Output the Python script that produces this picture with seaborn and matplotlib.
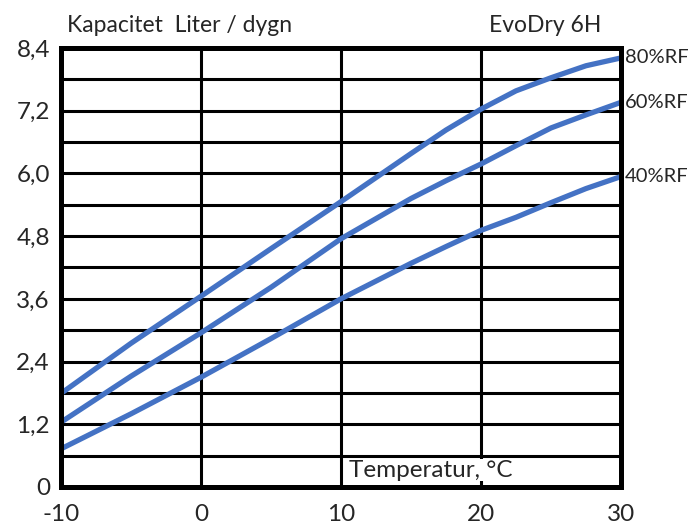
import numpy as np
import pandas as pd
import seaborn as sns
import matplotlib.pyplot as plt

# Data
temperatur = [-10, -5, 0, 5, 10, 15, 17.5, 20, 22.5, 25, 27.5, 30]
rf80 = [1.79, 2.75, 3.65, 4.56, 5.46, 6.38, 6.83, 7.23, 7.58, 7.83, 8.06, 8.21]
rf60 = [1.24, 2.12, 2.95, 3.82, 4.75, 5.52, 5.86, 6.18, 6.53, 6.87, 7.12, 7.36]
rf40 = [0.73, 1.40, 2.10, 2.84, 3.60, 4.28, 4.60, 4.91, 5.16, 5.44, 5.71, 5.94]
serie_namn = ["80%RF", "60%RF", "40%RF"]

x_ticks = [-10, 0, 10, 20, 30]
y_ticks = np.arange(0, 8.41, 0.6)
y_labels = ["0", "", "1,2", "", "2,4", "", "3,6", "", "4,8", "", "6,0", "", "7,2", "", "8,4"]

df = pd.DataFrame({
    "temp": temperatur * 3,
    "kap": rf80 + rf60 + rf40,
    "rf": [n for n in serie_namn for _ in temperatur],
})

sns.set_style("white")
plt.rcParams["font.family"] = ["Lato", "DejaVu Sans"]

fig = plt.figure(figsize=(6.95, 5.25), dpi=100)
ax = fig.add_axes([0.0878, 0.0724, 0.8057, 0.8362])

blue = "#4472C4"
sns.lineplot(data=df, x="temp", y="kap", units="rf", estimator=None,
             color=blue, linewidth=3.8, ax=ax, zorder=5)
for ln in ax.get_lines():
    ln.set_solid_joinstyle("round")
    ln.set_solid_capstyle("butt")

ax.set_xlim(-10, 30)
ax.set_ylim(0, 8.4)
ax.set_xticks(x_ticks)
ax.set_xticklabels([str(t) for t in x_ticks], fontsize=17.5)
ax.set_yticks(y_ticks)
ax.set_yticklabels(y_labels, fontsize=17.5)
ax.tick_params(axis="y", length=0, pad=8)
ax.tick_params(axis="x", length=0, pad=12)
ax.set_xlabel("")
ax.set_ylabel("")

# rutnät
for y in y_ticks[1:-1]:
    ax.axhline(y, color="black", linewidth=2.2, zorder=1)
for x in x_ticks[1:-1]:
    ax.axvline(x, color="black", linewidth=2.2, zorder=1)

for s in ax.spines.values():
    s.set_linewidth(3.6)
    s.set_color("black")
    s.set_zorder(6)

# etiketter vid kurvornas slut
for namn, vals in zip(serie_namn, [rf80, rf60, rf40]):
    ax.text(30.3, vals[-1], namn, fontsize=14.5, va="center", ha="left", clip_on=False)

ax.text(10.6, 0.32, "Temperatur, °C", fontsize=17.5, va="center", ha="left", zorder=3,
        bbox=dict(facecolor="white", edgecolor="none", pad=0.5))

fig.text(0.096, 0.952, "Kapacitet  Liter / dygn", fontsize=16.5, va="center", ha="left")
fig.text(0.865, 0.952, "EvoDry 6H", fontsize=16.5, va="center", ha="right")

plt.savefig("out.png", dpi=100)
